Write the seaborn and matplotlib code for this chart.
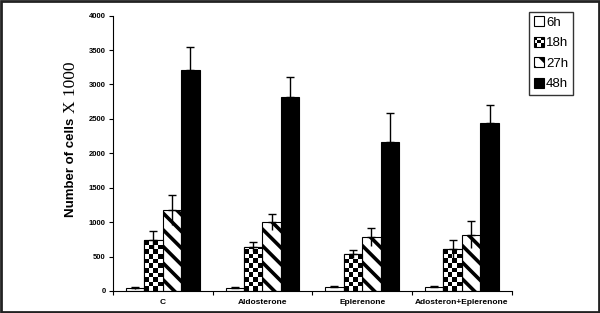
import numpy as np
import pandas as pd
import matplotlib
matplotlib.use("Agg")
import matplotlib.pyplot as plt
import seaborn as sns
from matplotlib.patches import Rectangle, Patch
from matplotlib.legend_handler import HandlerBase

categories = ["C", "Aldosterone", "Eplerenone", "Adosteron+Eplerenone"]
hours = ["6h", "18h", "27h", "48h"]
v6 = [45, 50, 65, 65]
v18 = [740, 645, 535, 605]
v27 = [1175, 1000, 780, 820]
v48 = [3210, 2820, 2170, 2440]
e6 = [10, 10, 10, 10]
e18 = [125, 60, 60, 130]
e27 = [215, 115, 130, 200]
e48 = [330, 285, 410, 265]
yticks = [0, 500, 1000, 1500, 2000, 2500, 3000, 3500, 4000]

values = [v6, v18, v27, v48]
errors = [e6, e18, e27, e48]

rows = []
for h, vals in zip(hours, values):
    for c, v in zip(categories, vals):
        rows.append({"group": c, "time": h, "value": v})
df = pd.DataFrame(rows)

sns.set_style("white")
plt.rcParams["hatch.linewidth"] = 2.6
plt.rcParams["font.family"] = ["Liberation Sans", "DejaVu Sans"]
for k in ["text.color", "axes.labelcolor", "xtick.color", "ytick.color", "axes.edgecolor"]:
    plt.rcParams[k] = "black"

fig = plt.figure(figsize=(6.0, 3.13), dpi=100)
ax = fig.add_axes([0.188, 0.0703, 0.665, 0.8797])

sns.barplot(data=df, x="group", y="value", hue="time", order=categories,
            hue_order=hours, errorbar=None, width=0.74,
            palette=["white", "white", "white", "black"],
            edgecolor="black", linewidth=0.8, legend=False, ax=ax,
            saturation=1)

ax.set_xlim(-0.5, 3.5)
ax.set_ylim(0, 4000)

cont = ax.containers
for p in cont[2]:
    p.set_hatch("\\\\")
    p.set_facecolor("white")
    p.set_edgecolor("black")

# checkerboard for 18h
px_per_unit = (0.8797 * 313) / 4000.0
for p in cont[1]:
    x, w, h = p.get_x(), p.get_width(), p.get_height()
    ncols = 4
    wpx = w / 4.0 * (0.665 * 600)
    cell_px = wpx / ncols
    cell_h = cell_px / px_per_unit
    nrows = int(np.ceil(h / cell_h)) + 1
    checker = (np.add.outer(np.arange(nrows), np.arange(ncols)) % 2).astype(float)
    im = ax.imshow(checker, extent=[x, x + w, nrows * cell_h, 0], cmap="gray",
                   interpolation="nearest", aspect="auto", zorder=p.get_zorder() + 0.1,
                   origin="upper")
    im.set_clip_path(p)
    ax.add_patch(Rectangle((x, 0), w, h, fill=False, edgecolor="black",
                           linewidth=0.8, zorder=p.get_zorder() + 0.2))

ax.set_xlim(-0.5, 3.5)
ax.set_ylim(0, 4000)

for ci, errs in enumerate(errors):
    for p, e in zip(cont[ci], errs):
        xc = p.get_x() + p.get_width() / 2
        top = p.get_height()
        ax.errorbar([xc], [top], yerr=[[0], [e]], fmt="none", ecolor="black",
                    elinewidth=1.0, capsize=3, capthick=1.0, zorder=5)
        ax.errorbar([xc], [top], yerr=[[min(e, top)], [0]], fmt="none",
                    ecolor="black", elinewidth=1.0, capsize=0, zorder=5)

sns.despine(ax=ax)
ax.spines["left"].set_linewidth(0.8)
ax.spines["bottom"].set_linewidth(0.8)
ax.set_yticks(yticks)
ax.set_yticklabels([str(t) for t in yticks], fontsize=5.5, fontweight="bold")
ax.tick_params(axis="y", direction="out", length=3, width=0.8, pad=2, left=True)
ax.set_xticks(range(len(categories)))
ax.set_xticklabels(categories, fontsize=6, fontweight="bold")
ax.tick_params(axis="x", which="major", length=0, pad=6)
ax.set_xticks([-0.5, 0.5, 1.5, 2.5, 3.5], minor=True)
ax.tick_params(axis="x", which="minor", direction="out", length=3, width=0.8, bottom=True)
ax.set_xlabel("")
ax.set_ylabel("")

fig.text(0.119, 0.466, "Number of cells", rotation=90, ha="center", va="center",
         fontsize=9.5, fontweight="bold", family="Liberation Sans")
fig.text(0.119, 0.722, "X 1000", rotation=90, ha="center", va="center",
         fontsize=12.5, family="Liberation Serif")


class HandlerCheck(HandlerBase):
    def create_artists(self, legend, orig_handle, xdescent, ydescent, width,
                       height, fontsize, trans):
        arts = []
        n = 3
        cw = width / n
        chh = height / n
        for i in range(n):
            for j in range(n):
                col = "black" if (i + j) % 2 == 0 else "white"
                r = Rectangle((-xdescent + i * cw, -ydescent + j * chh), cw, chh,
                              facecolor=col, edgecolor="none", transform=trans)
                arts.append(r)
        arts.append(Rectangle((-xdescent, -ydescent), width, height, fill=False,
                              edgecolor="black", linewidth=0.8, transform=trans))
        return arts


h6 = Patch(facecolor="white", edgecolor="black", linewidth=0.8)
h18 = Patch(facecolor="white", edgecolor="black")
h27 = Patch(facecolor="white", edgecolor="black", hatch="\\\\", linewidth=0.8)
h48 = Patch(facecolor="black", edgecolor="black", linewidth=0.8)
leg = fig.legend([h6, h18, h27, h48], hours, loc="upper right",
                 bbox_to_anchor=(0.955, 0.963), fontsize=9.5,
                 handler_map={h18: HandlerCheck()}, handlelength=0.8,
                 handleheight=0.8, handletextpad=0.15, labelspacing=0.6,
                 borderpad=0.35, borderaxespad=0, fancybox=False, frameon=True)
leg.get_frame().set_edgecolor("black")
leg.get_frame().set_linewidth(1.0)

fig.patches.append(Rectangle((0.001, 0.002), 0.997, 0.995, transform=fig.transFigure,
                             fill=False, edgecolor="#222222", linewidth=2))

fig.savefig("out.png", dpi=100)
